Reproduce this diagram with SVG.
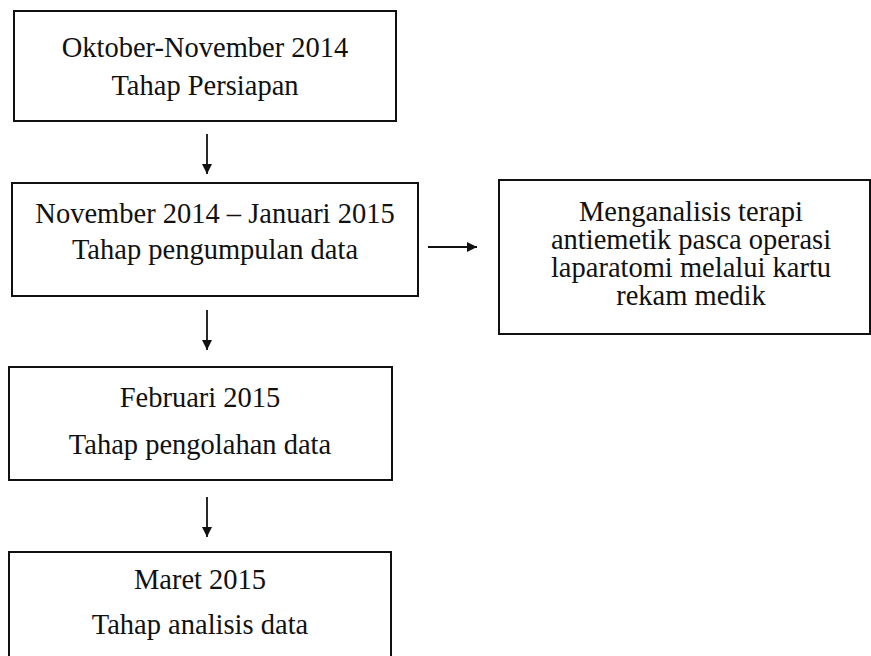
<svg xmlns="http://www.w3.org/2000/svg" width="871" height="656" viewBox="0 0 871 656">
<style>
.box{fill:#fff;stroke:#111;stroke-width:2}
.t{font-family:'Liberation Serif','Times New Roman','DejaVu Serif',serif;font-size:28.5px;fill:#111;text-anchor:middle}
.c{stroke:#111;stroke-width:1.8;fill:none}
</style>
<defs>
<marker id="ah" viewBox="0 0 10 10" refX="10" refY="5" markerWidth="10" markerHeight="10" markerUnits="userSpaceOnUse" orient="auto">
<path d="M0,0 L10,5 L0,10 z" fill="#111"/>
</marker>
</defs>
<rect width="871" height="656" fill="#fff"/>
<g id="n1"><rect class="box" x="14" y="11" width="382" height="110"/>
<text class="t" x="205" y="57">Oktober-November 2014</text>
<text class="t" x="205" y="95">Tahap Persiapan</text></g>
<g id="n2"><rect class="box" x="12" y="183" width="406" height="113"/>
<text class="t" x="215" y="223">November 2014 – Januari 2015</text>
<text class="t" x="215" y="259">Tahap pengumpulan data</text></g>
<g id="n3"><rect class="box" x="499" y="180" width="371" height="154"/>
<text class="t" x="691" y="221">Menganalisis terapi</text>
<text class="t" x="691" y="249">antiemetik pasca operasi</text>
<text class="t" x="691" y="277">laparatomi melalui kartu</text>
<text class="t" x="691" y="305">rekam medik</text></g>
<g id="n4"><rect class="box" x="9" y="367" width="383" height="113"/>
<text class="t" x="200" y="407">Februari 2015</text>
<text class="t" x="200" y="454">Tahap pengolahan data</text></g>
<g id="n5"><rect class="box" x="9" y="552" width="382" height="110"/>
<text class="t" x="200" y="589">Maret 2015</text>
<text class="t" x="200" y="634">Tahap analisis data</text></g>
<g id="connectors">
<line class="c" x1="207" y1="134" x2="207" y2="174" marker-end="url(#ah)"/>
<line class="c" x1="207" y1="310" x2="207" y2="350" marker-end="url(#ah)"/>
<line class="c" x1="207" y1="497" x2="207" y2="537" marker-end="url(#ah)"/>
<line class="c" x1="428" y1="247" x2="477" y2="247" marker-end="url(#ah)"/>
</g>
</svg>
